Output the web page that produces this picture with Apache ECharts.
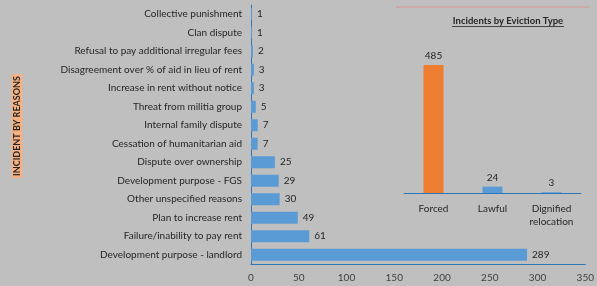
<!DOCTYPE html>
<html>
<head>
<meta charset="utf-8">
<script src="https://cdn.jsdelivr.net/npm/echarts@6/dist/echarts.min.js"></script>
<style>
  html, body { margin: 0; padding: 0; background: #bfbfbf; }
  #main { width: 597px; height: 286px; }
</style>
</head>
<body>
<div id="main"></div>
<script>
// reasons, listed top to bottom as in the picture
const reasons = [
  'Collective punishment',
  'Clan dispute',
  'Refusal to pay additional irregular fees',
  'Disagreement over % of aid in lieu of rent',
  'Increase in rent without notice',
  'Threat from militia group',
  'Internal family dispute',
  'Cessation of humanitarian aid',
  'Dispute over ownership',
  'Development purpose - FGS',
  'Other unspecified reasons',
  'Plan to increase rent',
  'Failure/inability to pay rent',
  'Development purpose - landlord'
];
const reasonCounts = [1, 1, 2, 3, 3, 5, 7, 7, 25, 29, 30, 49, 61, 289];
const xTicks = [0, 50, 100, 150, 200, 250, 300, 350];

const evictionTypes = ['Forced', 'Lawful', 'Dignified\nrelocation'];
const evictionCounts = [485, 24, 3];
const evictionColors = ['#ed7d31', '#5b9bd5', '#5b9bd5'];

const font = 'Lato, "Open Sans", sans-serif';
const chart = echarts.init(document.getElementById('main'));

const option = {
  backgroundColor: '#bfbfbf',
  textStyle: { fontFamily: font },
  graphic: [
    {
      type: 'text',
      x: 17,
      y: 126,
      rotation: Math.PI / 2,
      style: {
        text: 'INCIDENT BY REASONS',
        align: 'center',
        verticalAlign: 'middle',
        fontFamily: font,
        fontSize: 9,
        fontWeight: 'bold',
        fill: '#262626',
        backgroundColor: '#f4b183',
        padding: [1, 2, 1, 2]
      }
    },
    {
      type: 'line',
      shape: { x1: 396, y1: 7, x2: 589, y2: 7 },
      style: { stroke: '#d99594', lineWidth: 1 }
    },
    {
      type: 'text',
      x: 508,
      y: 21,
      style: {
        text: 'Incidents by Eviction Type',
        align: 'center',
        verticalAlign: 'middle',
        fontFamily: font,
        fontSize: 9.5,
        fontWeight: 'bold',
        fill: '#262626'
      }
    },
    {
      type: 'line',
      shape: { x1: 452, y1: 26.5, x2: 564, y2: 26.5 },
      style: { stroke: '#262626', lineWidth: 0.8 }
    }
  ],
  grid: [
    { left: 251, right: 5, top: 5, bottom: 22 },
    { left: 404, right: 16, top: 61, bottom: 93 }
  ],
  xAxis: [
    {
      gridIndex: 0,
      type: 'value',
      min: xTicks[0],
      max: xTicks[xTicks.length - 1],
      interval: 50,
      axisLine: { show: true, lineStyle: { color: '#2e75b6', width: 1 } },
      axisTick: { show: false },
      splitLine: { show: false },
      axisLabel: { color: '#404040', fontSize: 10, fontFamily: font, margin: 9 }
    },
    {
      gridIndex: 1,
      type: 'category',
      data: evictionTypes,
      axisLine: { show: true, lineStyle: { color: '#2e75b6', width: 1 } },
      axisTick: { show: false },
      axisLabel: { color: '#262626', fontSize: 10, fontFamily: font, margin: 9, lineHeight: 13, interval: 0 }
    }
  ],
  yAxis: [
    {
      gridIndex: 0,
      type: 'category',
      data: reasons,
      inverse: true,
      axisLine: { show: true, lineStyle: { color: '#2e75b6', width: 1 } },
      axisTick: { show: false },
      axisLabel: { color: '#262626', fontSize: 10, fontFamily: font, margin: 9, interval: 0 }
    },
    {
      gridIndex: 1,
      type: 'value',
      min: 0,
      max: 500,
      show: false,
      splitLine: { show: false }
    }
  ],
  series: [
    {
      type: 'bar',
      xAxisIndex: 0,
      yAxisIndex: 0,
      data: reasonCounts,
      barWidth: 12,
      itemStyle: { color: '#5b9bd5' },
      label: {
        show: true,
        position: 'right',
        distance: 5,
        color: '#262626',
        fontSize: 10,
        fontFamily: font
      }
    },
    {
      type: 'bar',
      xAxisIndex: 1,
      yAxisIndex: 1,
      data: evictionCounts.map((v, i) => ({ value: v, itemStyle: { color: evictionColors[i] } })),
      barWidth: 20,
      label: {
        show: true,
        position: 'top',
        distance: 4,
        color: '#262626',
        fontSize: 10,
        fontFamily: font
      }
    }
  ]
};

chart.setOption(option);
</script>
</body>
</html>
